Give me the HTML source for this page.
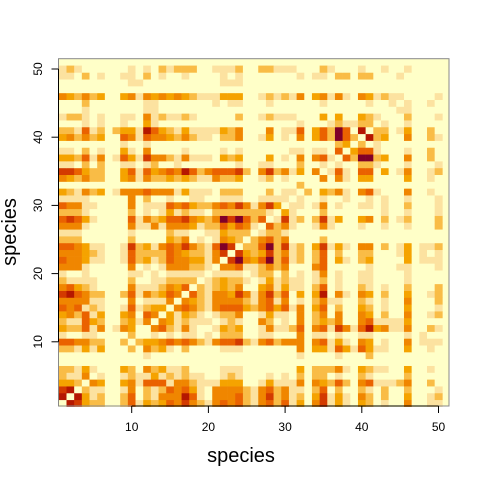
<!DOCTYPE html>
<html><head><meta charset="utf-8"><style>
html,body{margin:0;padding:0;background:#fff;}
svg text{font-family:"Liberation Sans",sans-serif;fill:#000;}
</style></head><body>
<svg id="chart" width="480" height="480" viewBox="0 0 480 480" xmlns="http://www.w3.org/2000/svg">
<rect x="58.5" y="58.7" width="390.5" height="347.3" fill="#FFFFC8"/>
<g id="cells"></g>
<rect x="58.5" y="58.7" width="390.5" height="347.3" fill="none" stroke="#888" stroke-width="1"/>
<g id="xaxis"></g>
<g id="yaxis"></g>
<text x="241" y="462" font-size="20" text-anchor="middle">species</text>
<text transform="translate(16,232) rotate(-90)" font-size="20" text-anchor="middle">species</text>
</svg>
<script>
// lower triangle of the symmetric species x species matrix (row r: columns 1..r), colour level 0-8
const lowerTriangle = [
[0],
[7,0],
[6,7,0],
[3,3,2,0],
[2,1,1,4,0],
[2,2,1,3,1,0],
[0,0,0,0,0,0,0],
[0,0,0,0,0,0,0,0],
[2,2,1,3,1,3,0,0,0],
[5,5,4,4,2,2,0,0,2,0],
[1,0,0,1,1,0,0,0,0,2,0],
[3,2,2,5,1,4,0,1,4,3,0,0],
[2,1,1,5,3,2,0,0,2,3,1,4,0],
[3,4,2,5,1,3,0,0,3,4,0,5,4,0],
[5,4,5,1,2,1,0,0,1,5,1,2,3,3,0],
[4,4,4,4,1,1,0,0,0,4,0,1,1,1,4,0],
[6,7,5,4,2,2,0,0,2,5,1,4,2,3,5,4,0],
[4,5,3,2,1,0,0,0,0,4,1,1,1,2,4,3,5,0],
[2,1,1,1,1,0,0,0,0,2,0,0,1,1,2,2,2,2,0],
[1,0,0,1,0,0,0,0,0,1,1,0,1,0,1,1,1,1,1,0],
[4,4,4,1,0,0,0,0,0,4,0,1,0,1,4,4,4,2,2,1,0],
[5,4,4,3,1,1,0,0,1,5,2,3,1,2,5,4,4,3,3,1,4,0],
[4,4,4,3,2,1,0,0,1,5,2,2,2,2,5,4,3,2,2,1,4,6,0],
[5,5,4,3,1,1,0,0,1,6,2,3,1,4,5,4,6,4,2,1,5,8,6,0],
[2,2,2,0,0,0,0,0,0,2,0,0,0,0,3,2,4,0,1,0,1,4,3,2,0],
[1,1,1,0,0,0,0,0,0,1,0,0,0,0,2,1,1,0,0,1,1,3,2,2,2,0],
[4,4,4,1,0,0,0,0,0,4,1,1,4,1,4,4,4,3,1,2,2,5,3,5,4,1,0],
[5,6,5,3,1,0,0,0,0,5,1,4,2,3,5,5,6,4,3,2,4,8,6,8,5,2,5,0],
[2,2,2,1,0,0,0,0,0,2,0,1,0,1,3,1,2,1,1,0,2,2,2,2,2,2,2,1,0],
[5,4,4,1,1,0,0,0,0,4,0,1,1,1,5,4,5,3,2,2,4,5,4,6,4,1,4,6,3,0],
[1,1,1,1,0,0,0,0,0,4,0,2,0,0,1,0,0,1,1,0,0,1,1,1,0,0,1,1,1,1,0],
[3,2,1,4,2,3,0,1,4,4,4,5,4,4,4,1,3,1,1,1,0,2,2,2,0,0,0,2,0,1,1,0],
[0,0,0,0,0,0,0,0,0,0,0,0,0,0,0,0,0,0,0,0,0,0,0,0,0,0,0,0,0,0,0,2,0],
[4,3,2,4,2,2,0,0,3,4,1,4,2,2,3,2,3,2,1,1,4,2,2,3,0,0,1,2,0,1,0,0,0,0],
[6,6,5,3,2,2,0,0,3,5,1,5,3,4,5,4,7,5,2,4,5,5,5,6,2,0,4,6,2,4,1,3,0,4,0],
[1,1,0,2,0,2,0,0,1,1,0,1,2,0,0,1,0,0,0,0,0,0,0,1,0,0,1,1,0,0,0,2,0,0,1,0],
[3,3,2,5,1,4,0,1,5,3,1,6,4,4,2,1,4,1,1,1,0,3,2,3,0,0,0,3,0,1,0,4,0,4,5,1,0],
[1,1,0,2,0,1,0,0,3,1,0,4,0,0,0,0,1,0,0,0,0,1,0,1,0,0,0,0,0,0,1,1,0,1,1,0,5,0],
[0,0,0,0,0,0,0,0,1,0,0,1,0,0,0,0,0,0,0,0,0,0,0,0,0,0,0,0,0,0,0,0,0,0,0,0,2,3,0],
[3,4,2,4,2,3,0,0,5,4,1,5,4,4,3,2,4,2,1,1,0,2,2,4,0,0,1,3,0,1,0,4,0,3,5,2,8,5,2,0],
[2,2,1,5,1,2,0,2,3,3,1,7,5,3,2,1,3,1,1,1,1,3,2,4,0,0,0,4,0,1,1,5,0,3,5,2,8,5,0,7,0],
[0,0,0,1,0,1,0,0,1,0,0,3,1,0,0,0,0,0,0,0,0,0,0,0,0,0,0,0,0,0,0,1,0,0,0,1,2,1,1,2,2,0],
[1,2,2,1,0,1,0,0,1,1,0,4,1,2,1,1,2,1,0,0,0,0,0,2,0,0,1,2,1,1,1,0,0,0,3,0,3,0,0,3,2,1,0],
[0,0,0,1,0,0,0,0,0,0,0,1,1,0,0,0,0,0,0,0,0,0,0,0,0,0,0,0,0,0,0,0,0,0,0,0,0,0,0,0,0,0,0,0],
[0,0,0,2,0,0,0,0,0,0,0,1,1,0,0,0,0,0,0,0,1,0,1,1,0,0,0,1,0,0,0,0,0,0,1,0,0,0,0,0,1,0,0,1,0],
[4,3,2,4,2,3,0,0,3,4,1,4,3,4,3,4,3,2,1,1,1,3,3,3,0,0,1,2,1,2,1,4,0,3,4,1,4,1,0,4,3,1,2,1,1,0],
[0,0,0,0,0,0,0,0,0,0,0,0,0,0,0,0,0,0,0,0,0,0,0,0,0,0,0,0,0,0,0,0,0,0,0,0,0,0,0,0,0,0,0,0,0,0,0],
[0,0,0,0,0,0,0,0,0,1,1,0,0,0,0,0,0,0,0,0,0,1,1,1,0,0,0,0,0,0,0,0,0,0,0,0,0,0,0,0,0,0,0,0,0,0,0,0],
[1,1,0,2,0,1,0,0,1,1,0,2,0,1,0,0,1,0,0,0,0,1,0,1,0,0,0,0,0,0,0,1,0,1,1,0,2,2,0,2,2,0,0,0,1,0,0,0,0],
[1,2,1,0,0,0,0,0,0,1,0,1,0,2,1,2,2,2,0,0,1,1,1,2,0,0,2,2,1,1,1,0,0,0,2,1,0,0,0,1,0,0,1,0,0,1,0,0,0,0]
];
const levelColors = ["#FFFFC8","#FCE2A0","#F9BC46","#F5A300","#F08600","#EA6200","#D33A00","#B51700","#800028"];
const xTicks = [10,20,30,40,50];
const yTicks = [10,20,30,40,50];
const N = 50;

const NS = "http://www.w3.org/2000/svg";
// axis functions (unit value -> pixel)
const xScale = v => 131.7 + (v - 10) * 7.67;
const yScale = v => 69 + (50 - v) * 6.82;
const cw = 7.67, ch = 6.82;
function level(r, c){ return c <= r ? lowerTriangle[r-1][c-1] : lowerTriangle[c-1][r-1]; }

const cells = document.getElementById('cells');
for (let r = 1; r <= N; r++) {
  for (let c = 1; c <= N; c++) {
    const lv = level(r, c);
    const rect = document.createElementNS(NS, 'rect');
    
    
    rect.setAttribute('x', (xScale(c) - cw/2).toFixed(2));
    rect.setAttribute('y', (yScale(r) - ch/2).toFixed(2));
    rect.setAttribute('width', (cw + 0.3).toFixed(2));
    rect.setAttribute('height', (ch + 0.3).toFixed(2));
    rect.setAttribute('fill', levelColors[lv]);
    cells.appendChild(rect);
  }
}
const xa = document.getElementById('xaxis');
const xl = document.createElementNS(NS, 'line');


xl.setAttribute('x1', xScale(xTicks[0])); xl.setAttribute('x2', xScale(xTicks[xTicks.length-1]));
xl.setAttribute('y1', 406); xl.setAttribute('y2', 406); xl.setAttribute('stroke', '#000');
xa.appendChild(xl);
xTicks.forEach(t => {
  const ln = document.createElementNS(NS, 'line');
  
  
  ln.setAttribute('x1', xScale(t)); ln.setAttribute('x2', xScale(t));
  ln.setAttribute('y1', 406); ln.setAttribute('y2', 413); ln.setAttribute('stroke', '#000');
  xa.appendChild(ln);
  const tx = document.createElementNS(NS, 'text');
  
  
  tx.setAttribute('x', xScale(t)); tx.setAttribute('y', 431);
  tx.setAttribute('font-size', '12'); tx.setAttribute('text-anchor', 'middle');
  tx.textContent = t;
  xa.appendChild(tx);
});
const ya = document.getElementById('yaxis');
const yl = document.createElementNS(NS, 'line');


yl.setAttribute('x1', 58.5); yl.setAttribute('x2', 58.5);
yl.setAttribute('y1', yScale(yTicks[0])); yl.setAttribute('y2', yScale(yTicks[yTicks.length-1])); yl.setAttribute('stroke', '#000');
ya.appendChild(yl);
yTicks.forEach(t => {
  const ln = document.createElementNS(NS, 'line');
  
  
  ln.setAttribute('x1', 51.5); ln.setAttribute('x2', 58.5);
  ln.setAttribute('y1', yScale(t)); ln.setAttribute('y2', yScale(t)); ln.setAttribute('stroke', '#000');
  ya.appendChild(ln);
  const tx = document.createElementNS(NS, 'text');
  
  
  tx.setAttribute('transform', 'translate(42,' + yScale(t) + ') rotate(-90)');
  tx.setAttribute('font-size', '12'); tx.setAttribute('text-anchor', 'middle');
  tx.textContent = t;
  ya.appendChild(tx);
});
</script>
</body></html>
